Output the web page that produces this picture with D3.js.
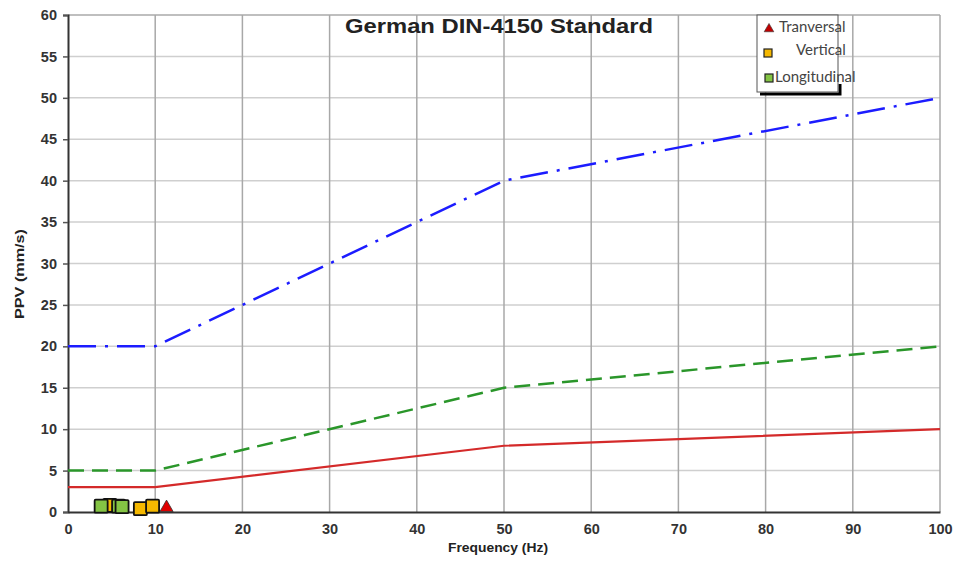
<!DOCTYPE html>
<html><head><meta charset="utf-8">
<script src="https://cdn.jsdelivr.net/npm/d3@7"></script>
<style>body{margin:0;background:#fff}svg{display:block}</style>
</head><body>
<svg id="c" width="963" height="562"></svg>
<script>
const xTicks = [0,10,20,30,40,50,60,70,80,90,100];
const yTicks = [0,5,10,15,20,25,30,35,40,45,50,55,60];
const limitFreq = [0,10,50,100];
const limitHigh = [20,20,40,50];
const limitMid = [5,5,15,20];
const limitLow = [3,3,8,10];
const longFreq = [3.8,5.8,6.2];
const longPPV = [0.7,0.7,0.65];
const vertFreq = [4.8,8.3,9.7];
const vertPPV = [0.8,0.4,0.7];
const tranFreq = [11.3];
const tranPPV = [0.4];
const legendLabels = ["Tranversal","Vertical","Longitudinal"];

const svg = d3.select("#c");
const x = d3.scaleLinear().domain([0,100]).range([68,940]);
const y = d3.scaleLinear().domain([0,60]).range([512,15]);
const F = "Liberation Sans, Arial, sans-serif";

// grid
svg.append("g").selectAll("line").data(yTicks.filter(d=>d>0)).join("line")
  .attr("x1",x(0)).attr("x2",x(100)).attr("y1",d=>y(d)).attr("y2",d=>y(d))
  .attr("stroke",d=>d===60?"#aaa":"#cfcfcf").attr("stroke-width",1.5);
svg.append("g").selectAll("line").data(xTicks.filter(d=>d>0)).join("line")
  .attr("x1",d=>x(d)).attr("x2",d=>x(d)).attr("y1",y(0)).attr("y2",y(60))
  .attr("stroke","#a8a8a8").attr("stroke-width",1.5);

// axes
const xa = svg.append("g").attr("transform",`translate(0,${y(0)})`)
  .call(d3.axisBottom(x).tickValues(xTicks).tickSize(0).tickPadding(12));
const ya = svg.append("g").attr("transform",`translate(${x(0)},0)`)
  .call(d3.axisLeft(y).tickValues(yTicks).tickSize(5).tickPadding(6));
[xa,ya].forEach(a=>{
  a.select(".domain").attr("stroke","#333").attr("stroke-width",2);
  a.selectAll(".tick line").attr("stroke","#555").attr("stroke-width",1.5);
  a.selectAll(".tick text").attr("font-family",F)
   .attr("font-weight","bold").attr("font-size",14.5).attr("fill","#333");
});

// limit lines
const line = (vals)=>d3.line().x((d,i)=>x(limitFreq[i])).y(d=>y(d))(vals);
svg.append("path").attr("d",line(limitLow)).attr("fill","none")
  .attr("stroke","#d42a2a").attr("stroke-width",2.2);
svg.append("path").attr("d",line(limitMid)).attr("fill","none")
  .attr("stroke","#2a962a").attr("stroke-width",2.5).attr("stroke-dasharray","16,8");
svg.append("path").attr("d",line(limitHigh)).attr("fill","none")
  .attr("stroke","#1c1cff").attr("stroke-width",2.5).attr("stroke-dasharray","28,9,3,9");

// markers
const sq = 13;
function squares(fx,fy,fill){
  svg.append("g").selectAll("rect").data(fx).join("rect")
    .attr("x",(d)=>x(d)-sq/2).attr("y",(d,i)=>y(fy[i])-sq/2)
    .attr("width",sq).attr("height",sq).attr("fill",fill)
    .attr("stroke","#111").attr("stroke-width",1.8).attr("rx",1);
}
squares(vertFreq,vertPPV,"#f5b800");
squares(longFreq,longPPV,"#84c444");
svg.append("g").selectAll("path").data(tranFreq).join("path")
  .attr("d",d3.symbol(d3.symbolTriangle,75)())
  .attr("transform",(d,i)=>`translate(${x(d)},${y(tranPPV[i])-1})`)
  .attr("fill","#e00000").attr("stroke","#333").attr("stroke-width",0.8);

// title
svg.append("text").attr("x",499).attr("y",33).attr("text-anchor","middle")
  .attr("font-family",F).attr("font-weight","bold")
  .attr("font-size",21).attr("textLength",308).attr("lengthAdjust","spacingAndGlyphs")
  .attr("fill","#222").text("German DIN-4150 Standard");
// axis titles
svg.append("text").attr("x",498).attr("y",552).attr("text-anchor","middle")
  .attr("font-family",F).attr("font-weight","bold")
  .attr("font-size",13).attr("textLength",100).attr("lengthAdjust","spacingAndGlyphs")
  .attr("fill","#222").text("Frequency (Hz)");
svg.append("text").attr("transform","translate(24,274) rotate(-90)").attr("text-anchor","middle")
  .attr("font-family",F).attr("font-weight","bold")
  .attr("font-size",13.5).attr("textLength",90).attr("lengthAdjust","spacingAndGlyphs")
  .attr("fill","#222").text("PPV (mm/s)");

// legend
const lg = svg.append("g");
lg.append("path").attr("d","M760,94 L840,94 L840,84").attr("fill","none").attr("stroke","#000").attr("stroke-width",3);
lg.append("rect").attr("x",757).attr("y",15).attr("width",81).attr("height",77)
  .attr("fill","#fff").attr("stroke","#555").attr("stroke-width",1);
lg.append("path").attr("d",d3.symbol(d3.symbolTriangle,40)()).attr("transform","translate(769,29)")
  .attr("fill","#c00000").attr("stroke","#333").attr("stroke-width",0.6);
lg.append("rect").attr("x",764).attr("y",49).attr("width",8).attr("height",8)
  .attr("fill","#f5b800").attr("stroke","#222").attr("stroke-width",1.2);
lg.append("rect").attr("x",765).attr("y",74).attr("width",8).attr("height",8)
  .attr("fill","#84c444").attr("stroke","#222").attr("stroke-width",1.2);
const lx = [779,796,775], ly=[32,55,82];
lg.selectAll("text").data(legendLabels).join("text")
  .attr("x",(d,i)=>lx[i]).attr("y",(d,i)=>ly[i])
  .attr("font-family","Lato, Open Sans, sans-serif").attr("font-size",15).attr("fill","#444")
  .text(d=>d);
</script>
</body></html>
